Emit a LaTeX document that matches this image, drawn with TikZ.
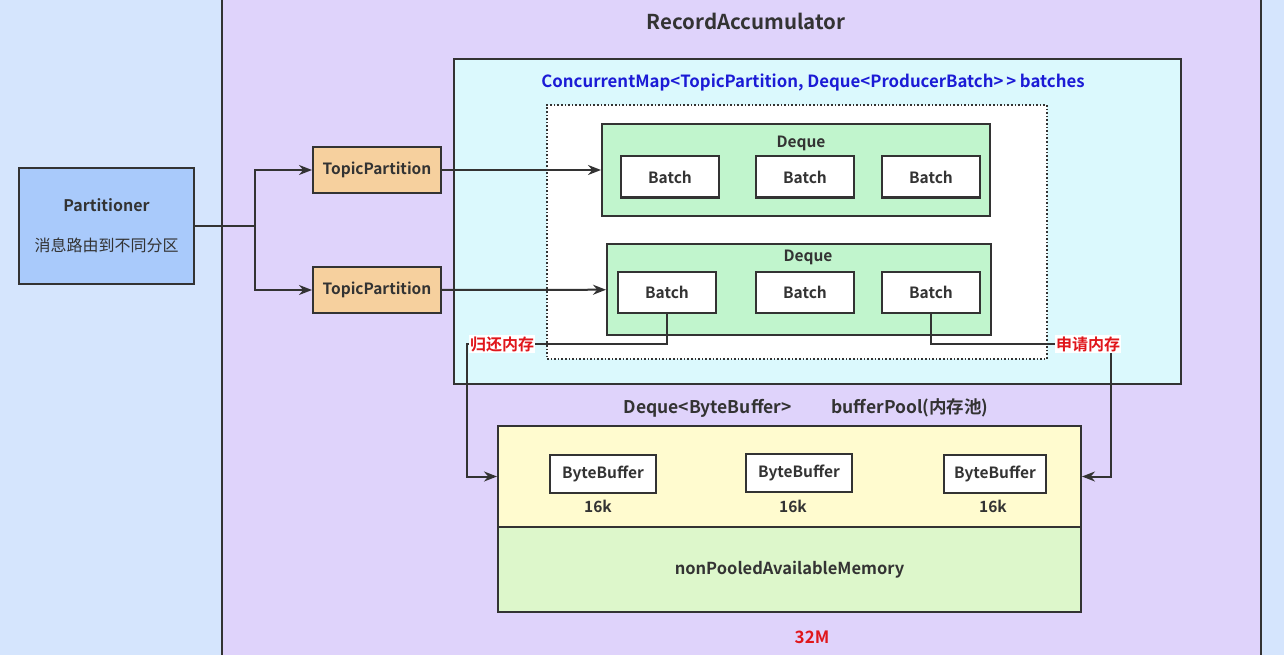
\documentclass[tikz,border=0pt]{standalone}
\usepackage{fontspec}
\setmainfont{Noto Sans CJK SC}[BoldFont={Noto Sans CJK SC Bold}]
\usetikzlibrary{arrows,arrows.meta,positioning,calc}

\definecolor{bgblue}{HTML}{D5E5FD}
\definecolor{purp}{HTML}{DFD3FB}
\definecolor{partblue}{HTML}{A9CAFB}
\definecolor{tporange}{HTML}{F6D09E}
\definecolor{mapcyan}{HTML}{DBF9FD}
\definecolor{dqgreen}{HTML}{C1F5CD}
\definecolor{poolyellow}{HTML}{FFFBCF}
\definecolor{npgreen}{HTML}{DDF7CB}
\definecolor{titleblue}{HTML}{1B1BD6}
\definecolor{memred}{HTML}{E0161B}
\definecolor{ink}{HTML}{333333}

\tikzset{
  box/.style={draw=ink, line width=2pt, inner sep=0pt, text=ink},
  batch/.style={box, fill=white, minimum width=98pt, minimum height=41pt,
    font=\fontsize{15.5}{18}\selectfont\bfseries},
  buf/.style={box, fill=white, minimum width=106pt, minimum height=38pt,
    font=\fontsize{15.5}{18}\selectfont\bfseries},
  tpbox/.style={box, fill=tporange, minimum width=128pt, minimum height=46pt,
    font=\fontsize{15.5}{18}\selectfont\bfseries},
  lbl/.style={text=ink, inner sep=0pt, font=\fontsize{15.5}{18}\selectfont\bfseries},
  memlbl/.style={fill=white, text=memred, inner sep=1pt, font=\fontsize{16}{18}\selectfont\bfseries},
  conn/.style={draw=ink, line width=2pt, -{Stealth[length=13pt, width=10pt]}}
}

\begin{document}
\begin{tikzpicture}[x=1pt, y=-1pt, auto]
\useasboundingbox (0,0) rectangle (1284,655);
\fill[bgblue] (0,0) rectangle (1284,655);
\fill[purp] (222,0) rectangle (1261,655);
\draw[ink, line width=2pt] (222,0) -- (222,655) (1261,0) -- (1261,655);
\node[lbl, font=\fontsize{20.5}{24}\selectfont\bfseries] (acc) at (746,21) {RecordAccumulator};

\node[box, fill=partblue, minimum width=175pt, minimum height=116pt, align=center,
  font=\fontsize{16}{20}\selectfont] (part) at (106.5,226)
  {\textbf{Partitioner}\\[20pt]消息路由到不同分区};
\node[tpbox] (tp1) at (377,170) {TopicPartition};
\node[tpbox] (tp2) at (377,290) {TopicPartition};

% batches map
\node[box, fill=mapcyan, minimum width=727pt, minimum height=325pt] (map) at (817.5,221.5) {};
\node[lbl, text=titleblue, font=\fontsize{16.8}{20}\selectfont\bfseries] (maptitle) at (813,82)
  {ConcurrentMap<TopicPartition, Deque<ProducerBatch>\,> batches};
\node[draw=ink, dotted, line width=1.6pt, fill=white, minimum width=500pt, minimum height=254pt] (inner) at (797,232) {};

\node[box, fill=dqgreen, minimum width=388pt, minimum height=92pt] (dq1) at (796,170) {};
\node[lbl] (dq1lbl) at (801,143) {Deque};
\node[batch] (b11) at (670,177) {Batch};
\node[batch] (b12) at (805,177) {Batch};
\node[batch] (b13) at (931,177) {Batch};

\node[box, fill=dqgreen, minimum width=384pt, minimum height=91pt] (dq2) at (799,289.5) {};
\node[lbl] (dq2lbl) at (808,257) {Deque};
\node[batch] (b21) at (667,292.5) {Batch};
\node[batch] (b22) at (805,292.5) {Batch};
\node[batch] (b23) at (931,292.5) {Batch};

% buffer pool
\node[lbl, font=\fontsize{17.5}{20}\selectfont\bfseries] (pooltitle) at (806,408)
  {Deque<ByteBuffer>\hspace*{40pt}bufferPool(内存池)};
\node[box, fill=poolyellow, minimum width=583pt, minimum height=101pt] (pool) at (789.5,476.5) {};
\node[box, fill=npgreen, minimum width=583pt, minimum height=85pt,
  font=\fontsize{16.5}{20}\selectfont\bfseries] (nonpool) at (789.5,569.5) {nonPooledAvailableMemory};
\node[buf] (bb1) at (603,473.5) {ByteBuffer};
\node[buf] (bb2) at (799,472.5) {ByteBuffer};
\node[buf, minimum width=102pt] (bb3) at (995,473.5) {ByteBuffer};
\node[lbl] (k1) at (598,506) {16k};
\node[lbl] (k2) at (793,506) {16k};
\node[lbl] (k3) at (993,506) {16k};
\node[lbl, text=memred, font=\fontsize{17}{20}\selectfont\bfseries] (total) at (812,637) {32M};

% connectors
\draw[ink, line width=2pt] (part.east) -- ++(60,0) coordinate (fork);
\draw[conn] (fork) |- (tp1.west);
\draw[conn] (fork) |- (tp2.west);
\draw[conn] (tp1) -- (dq1);
\draw[conn] (tp2) -- (dq2);
\coordinate (retc) at (467,344);
\coordinate (reqc) at (1111,344);
\draw[conn] (b21.south) |- (retc) |- (pool.west);
\draw[conn] (b23.south) |- (reqc) |- (pool.east);
\node[memlbl] (ret) at (502,344) {归还内存};
\node[memlbl] (req) at (1088,344) {申请内存};
\end{tikzpicture}
\end{document}
